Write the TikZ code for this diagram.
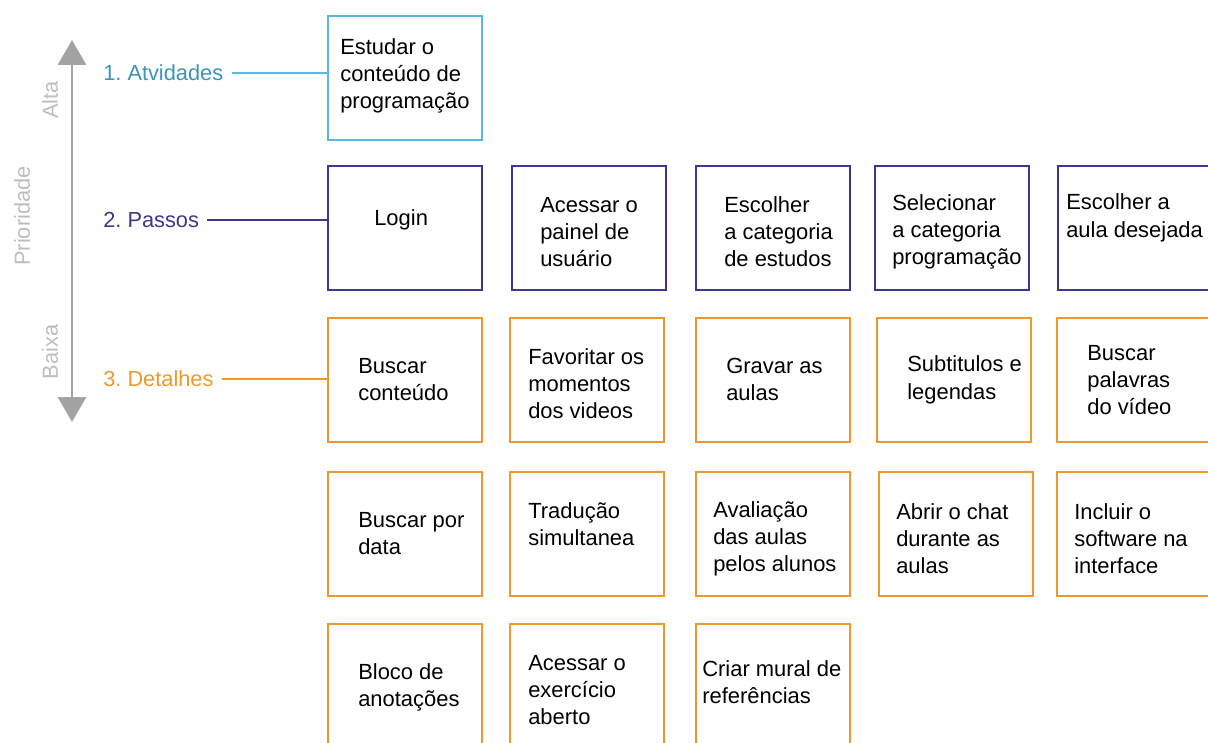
\documentclass[tikz,border=0pt]{standalone}
\usepackage{fontspec}
\setmainfont{Liberation Sans}
\usetikzlibrary{positioning,arrows.meta}

\definecolor{atvCor}{HTML}{5BB7E5}
\definecolor{atvTexto}{HTML}{3D93BC}
\definecolor{passoCor}{HTML}{3C3790}
\definecolor{detCor}{HTML}{EC9A29}
\definecolor{eixoCor}{HTML}{A3A3A3}
\definecolor{eixoTexto}{HTML}{BDBDBD}

\tikzset{
	caixa/.style={draw, line width=1.1pt, anchor=north west, minimum width=3.86cm, minimum height=3.1cm},
	atividade/.style={caixa, draw=atvCor},
	passo/.style={caixa, draw=passoCor},
	detalhe/.style={caixa, draw=detCor},
	texto/.style={inner sep=0pt, align=left, font=\fontsize{15.6}{19.3}\selectfont},
	nivel/.style={inner xsep=0.2cm, anchor=west, font=\fontsize{15.5}{19}\selectfont\frenchspacing},
	eixo/.style={text=eixoTexto, rotate=90, font=\fontsize{15.5}{19}\selectfont}
}

\begin{document}
\begin{tikzpicture}[x=0.025cm, y=-0.025cm]
		\useasboundingbox (0,0) rectangle (1208,742);
		\clip (0,0) rectangle (1208,742);
		
		% eixo de prioridade
		\coordinate (alto) at (72,40);
		\coordinate (baixo) at (72,422);
		\draw[eixoCor, line width=1.5pt, {Triangle[width=0.7cm,length=0.62cm]}-{Triangle[width=0.7cm,length=0.62cm]}]
		(alto) -- (baixo);
		\node[eixo] (alta) at (50,100) {Alta};
		\node[eixo] (prioridade) at (22,216) {Prioridade};
		\node[eixo] (baixa) at (50,352) {Baixa};
		
		% niveis
		\node[nivel, text=atvTexto] (n1) at (95,73) {1. Atvidades};
		\node[nivel, text=passoCor] (n2) at (95,220) {2. Passos};
		\node[nivel, text=detCor] (n3) at (95,379) {3. Detalhes};
		
		% atividades
		\node[atividade] (a1) at (327,15) {};
		\node[texto, right=0.325cm of a1.west, yshift=0.05cm] (a1t) {Estudar o\\conteúdo de\\programação};
		
		% passos
		\node[passo] (p1) at (327,165) {};
		\node[texto, right=1.175cm of p1.west, yshift=0.2cm] (p1t) {Login};
		\node[passo] (p2) at (511,165) {};
		\node[texto, right=0.725cm of p2.west, yshift=-0.1cm] (p2t) {Acessar o\\painel de\\usuário};
		\node[passo] (p3) at (695,165) {};
		\node[texto, right=0.725cm of p3.west, yshift=-0.1cm] (p3t) {Escolher\\a categoria\\de estudos};
		\node[passo] (p4) at (874,165) {};
		\node[texto, right=0.45cm of p4.west, yshift=-0.1cm] (p4t) {Selecionar\\a categoria\\programação};
		\node[passo] (p5) at (1057,165) {};
		\node[texto, right=0.225cm of p5.west, yshift=0.25cm] (p5t) {Escolher a\\aula desejada};
		
		% detalhes
		\node[detalhe] (d1) at (327,317) {};
		\node[texto, right=0.775cm of d1.west] (d1t) {Buscar\\conteúdo};
		\node[detalhe] (d2) at (509,317) {};
		\node[texto, right=0.475cm of d2.west, yshift=-0.1cm] (d2t) {Favoritar os\\momentos\\dos videos};
		\node[detalhe] (d3) at (695,317) {};
		\node[texto, right=0.775cm of d3.west] (d3t) {Gravar as\\aulas};
		\node[detalhe] (d4) at (876,317) {};
		\node[texto, right=0.775cm of d4.west] (d4t) {Subtitulos e\\legendas};
		\node[detalhe] (d5) at (1056,317) {};
		\node[texto, right=0.775cm of d5.west] (d5t) {Buscar\\palavras\\do vídeo};
		
		\node[detalhe] (d6) at (327,471) {};
		\node[texto, right=0.775cm of d6.west] (d6t) {Buscar por\\data};
		\node[detalhe] (d7) at (509,471) {};
		\node[texto, right=0.475cm of d7.west, yshift=0.25cm] (d7t) {Tradução\\simultanea};
		\node[detalhe] (d8) at (695,471) {};
		\node[texto, right=0.45cm of d8.west, yshift=-0.13cm] (d8t) {Avaliação\\das aulas\\pelos alunos};
		\node[detalhe] (d9) at (878,471) {};
		\node[texto, right=0.45cm of d9.west, yshift=-0.13cm] (d9t) {Abrir o chat\\durante as\\aulas};
		\node[detalhe] (d10) at (1056,471) {};
		\node[texto, right=0.45cm of d10.west, yshift=-0.13cm] (d10t) {Incluir o\\software na\\interface};
		
		\node[detalhe] (d11) at (327,623) {};
		\node[texto, right=0.775cm of d11.west, yshift=-0.03cm] (d11t) {Bloco de\\anotações};
		\node[detalhe] (d12) at (509,623) {};
		\node[texto, right=0.475cm of d12.west, yshift=-0.1cm] (d12t) {Acessar o\\exercício\\aberto};
		\node[detalhe] (d13) at (695,623) {};
		\node[texto, right=0.175cm of d13.west, yshift=0.1cm] (d13t) {Criar mural de\\referências};
		
		% ligacoes
		\draw[atvCor, line width=1pt]
		(n1.east) -- (n1.east -| a1.west);
		\draw[passoCor, line width=1pt]
		(n2.east) -- (n2.east -| p1.west);
		\draw[detCor, line width=1pt]
		(n3.east) -- (n3.east -| d1.west);
		
		\end{tikzpicture}
\end{document}
